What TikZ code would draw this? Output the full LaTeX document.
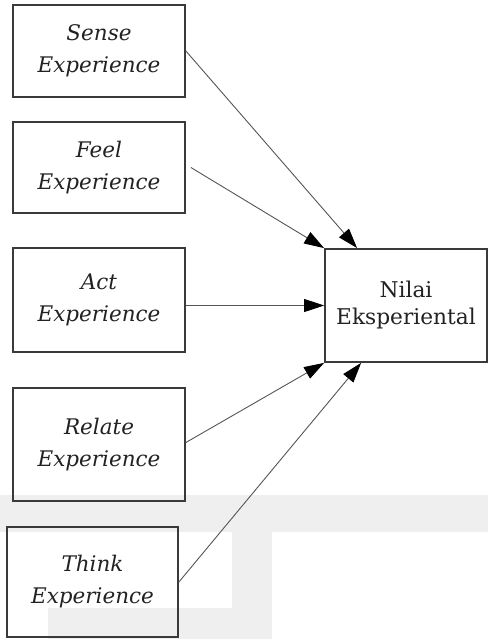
\documentclass[tikz,border=0pt]{standalone}
\usepackage{fontspec}
\setmainfont{DejaVu Serif}
\usetikzlibrary{arrows.meta}
\definecolor{boxline}{HTML}{3A3A3A}
\definecolor{arrowline}{HTML}{555555}
\definecolor{haze}{HTML}{EFEFEF}
\definecolor{ink}{HTML}{222222}
\tikzset{
  srcbox/.style={draw=boxline, line width=1.8pt, align=center, inner sep=0pt,
    font=\fontsize{21.5}{32}\selectfont\itshape, text=ink},
  targetbox/.style={draw=boxline, line width=1.8pt, align=center, inner sep=0pt,
    font=\fontsize{21.7}{27}\selectfont, text=ink},
  link/.style={draw=arrowline, line width=0.9pt,
    -{Triangle[length=20pt,width=13pt,color=black,fill=black]}},
}
\begin{document}
\begin{tikzpicture}[x=1pt,y=-1pt]
  \useasboundingbox (0,0) rectangle (488,639);
  % light background band across the lower part
  \fill[haze] (0,495) rectangle (488,532);
  \fill[haze] (232,532) rectangle (272,639);
  \fill[haze] (48,608) rectangle (272,639);

  % dimensions of experience
  \node[srcbox, minimum width=172pt, minimum height=92pt]  (sense)  at (99,51)    {Sense\\Experience};
  \node[srcbox, minimum width=172pt, minimum height=91pt]  (feel)   at (99,167.5) {Feel\\Experience};
  \node[srcbox, minimum width=172pt, minimum height=104pt] (act)    at (99,300)   {Act\\Experience};
  \node[srcbox, minimum width=172pt, minimum height=113pt] (relate) at (99,444.5) {Relate\\Experience};
  \node[srcbox, minimum width=171pt, minimum height=110pt] (think)  at (92.5,582) {Think\\Experience};

  % outcome
  \node[targetbox, minimum width=162pt, minimum height=113pt] (nilai) at (406,305.5) {Nilai\\Eksperiental};

  \coordinate (nTopA) at ([xshift=33pt]nilai.north west);
  \coordinate (nBotA) at ([xshift=37pt]nilai.south west);

  \draw[link] (sense.east) -- (nTopA);
  \draw[link] ([xshift=5pt]feel.east) -- (nilai.north west);
  \draw[link] (act.east |- nilai.west) -- (nilai.west);
  \draw[link] ([yshift=2pt]relate.east) -- (nilai.south west);
  \draw[link] (think.east) -- (nBotA);
\end{tikzpicture}
\end{document}
